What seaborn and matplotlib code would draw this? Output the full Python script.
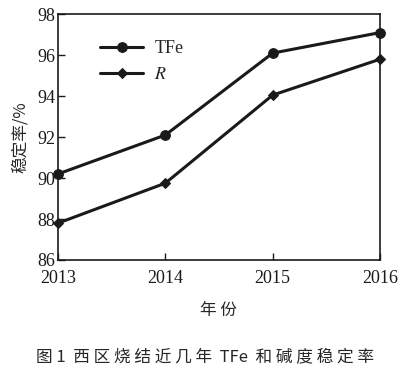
import matplotlib
matplotlib.use("Agg")
import matplotlib.pyplot as plt
import seaborn as sns
import pandas as pd

years = [2013, 2014, 2015, 2016]
tfe = [90.2, 92.1, 96.1, 97.1]
r_vals = [87.8, 89.75, 94.05, 95.8]
yticks = [86, 88, 90, 92, 94, 96, 98]

sns.set_style("ticks")
plt.rcParams['font.family'] = ['Liberation Serif', 'Noto Sans CJK SC', 'DejaVu Sans']
plt.rcParams['mathtext.fontset'] = 'stix'

fig = plt.figure(figsize=(4.09, 3.73), dpi=100)
ax = fig.add_axes([0.142, 0.303, 0.787, 0.659])

df_t = pd.DataFrame({"year": years, "v": tfe})
df_r = pd.DataFrame({"year": years, "v": r_vals})
sns.lineplot(data=df_t, x="year", y="v", ax=ax, color="#1a1a1a", lw=2.2,
             marker="o", markersize=7, markeredgecolor="#1a1a1a", label="TFe", clip_on=False)
sns.lineplot(data=df_r, x="year", y="v", ax=ax, color="#1a1a1a", lw=2.2,
             marker="D", markersize=5, markeredgecolor="#1a1a1a", label="$R$", clip_on=False)

ax.set_xlim(2013, 2016)
ax.set_ylim(86, 98)
ax.set_xticks(years)
ax.set_yticks(yticks)
ax.tick_params(direction="in", length=5, width=1, labelsize=13, colors="#1a1a1a")
ax.tick_params(axis="x", pad=7)
ax.tick_params(axis="y", pad=2)
for s in ax.spines.values():
    s.set_linewidth(1.2)
    s.set_color("#1a1a1a")
ax.set_xlabel("")
ax.set_ylabel("稳定率/%", fontsize=12, family=['Noto Sans CJK SC'], labelpad=6)

leg = ax.legend(loc="upper left", bbox_to_anchor=(0.08, 0.96), frameon=False,
                fontsize=13, handlelength=2.4, handletextpad=0.6, labelspacing=0.5)

fig.text(0.535, 0.168, "年 份", ha="center", va="center", fontsize=12, family=['Noto Sans CJK SC'])
fig.text(0.5, 0.043, "图 1  西 区 烧 结 近 几 年  TFe  和 碱 度 稳 定 率", ha="center", va="center",
         fontsize=12, family=['Noto Sans CJK SC', 'DejaVu Sans'])

fig.savefig("out.png", dpi=100)
